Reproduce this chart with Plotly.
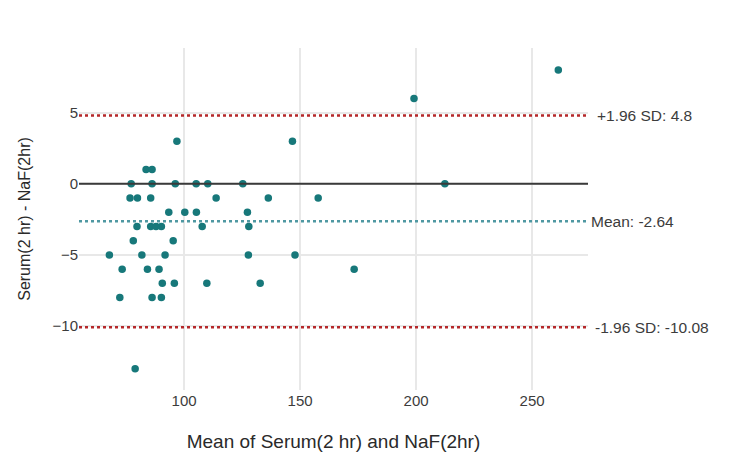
import plotly.graph_objects as go

# Bland-Altman data: mean of the two methods (x) and their difference (y)
mean_vals = [261.3, 199.1,
             96.9, 146.7,
             83.6, 86.2,
             77.2, 86.2, 96.2, 105.2, 110.2, 125.3, 212.4,
             76.7, 79.9, 85.6, 113.8, 136.3, 157.8,
             93.4, 100.3, 105.3, 127.3,
             79.7, 85.6, 87.9, 90.2, 107.8, 127.9,
             78.1, 95.3,
             67.8, 81.8, 91.8, 127.7, 147.8,
             73.3, 84.2, 89.2, 173.3,
             90.6, 95.8, 109.8, 132.8,
             72.3, 86.2, 90.2,
             78.9]
diff_vals = [8, 6,
             3, 3,
             1, 1,
             0, 0, 0, 0, 0, 0, 0,
             -1, -1, -1, -1, -1, -1,
             -2, -2, -2, -2,
             -3, -3, -3, -3, -3, -3,
             -4, -4,
             -5, -5, -5, -5, -5,
             -6, -6, -6, -6,
             -7, -7, -7, -7,
             -8, -8, -8,
             -13]

mean_diff = -2.64
upper_loa = 4.8
lower_loa = -10.08

x_ticks = [100, 150, 200, 250]
y_ticks = [-10, -5, 0, 5]

point_color = "#17787a"
red = "#b5282a"
teal_line = "#4f98a2"
FONT = "Liberation Sans, Arial, sans-serif"

fig = go.Figure()
fig.add_trace(go.Scatter(
    x=mean_vals, y=diff_vals, mode="markers",
    marker=dict(color=point_color, size=7.5),
    showlegend=False, hoverinfo="x+y"))

lines = [
    (upper_loa, red, "dot", 2.5, "+1.96 SD: %s" % upper_loa, 7),
    (mean_diff, teal_line, "dot", 2.5, "Mean: %s" % mean_diff, 1),
    (lower_loa, red, "dot", 2.5, "-1.96 SD: %s" % lower_loa, 5),
    (0, "#3a3a3a", "solid", 2, None, 0),
]
for yv, col, dash, w, label, shift in lines:
    fig.add_shape(type="line", xref="paper", x0=0, x1=1, yref="y", y0=yv, y1=yv,
                  line=dict(color=col, dash=dash, width=w), layer="above")
    if label:
        fig.add_annotation(xref="paper", x=1, y=yv, yref="y", text=label,
                           showarrow=False, xanchor="left", xshift=shift,
                           font=dict(size=15.5, color="#3c3c3c", family=FONT))

fig.update_layout(
    width=750, height=476,
    margin=dict(l=71, r=170, t=40, b=94),
    paper_bgcolor="white", plot_bgcolor="white",
    font=dict(family=FONT, color="#3c3c3c"),
    xaxis=dict(range=[54.7, 274.1], tickvals=x_ticks, showgrid=True,
               gridcolor="#e8e8e8", gridwidth=1.5, zeroline=False,
               showline=False, ticks="", automargin=False,
               tickfont=dict(size=15, color="#3c3c3c"),
               title=dict(text="Mean of Serum(2 hr) and NaF(2hr)",
                          font=dict(size=19, color="#2a2a2a"), standoff=26)),
    yaxis=dict(range=[-14.5, 9.55], tickvals=y_ticks, showgrid=True,
               gridcolor="#e8e8e8", gridwidth=1.5, zeroline=False,
               showline=False, ticks="", automargin=False,
               tickfont=dict(size=15, color="#3c3c3c"),
               title=dict(text="Serum(2 hr) - NaF(2hr)",
                          font=dict(size=16, color="#2a2a2a"), standoff=17)),
)

fig.write_html("out.html")
